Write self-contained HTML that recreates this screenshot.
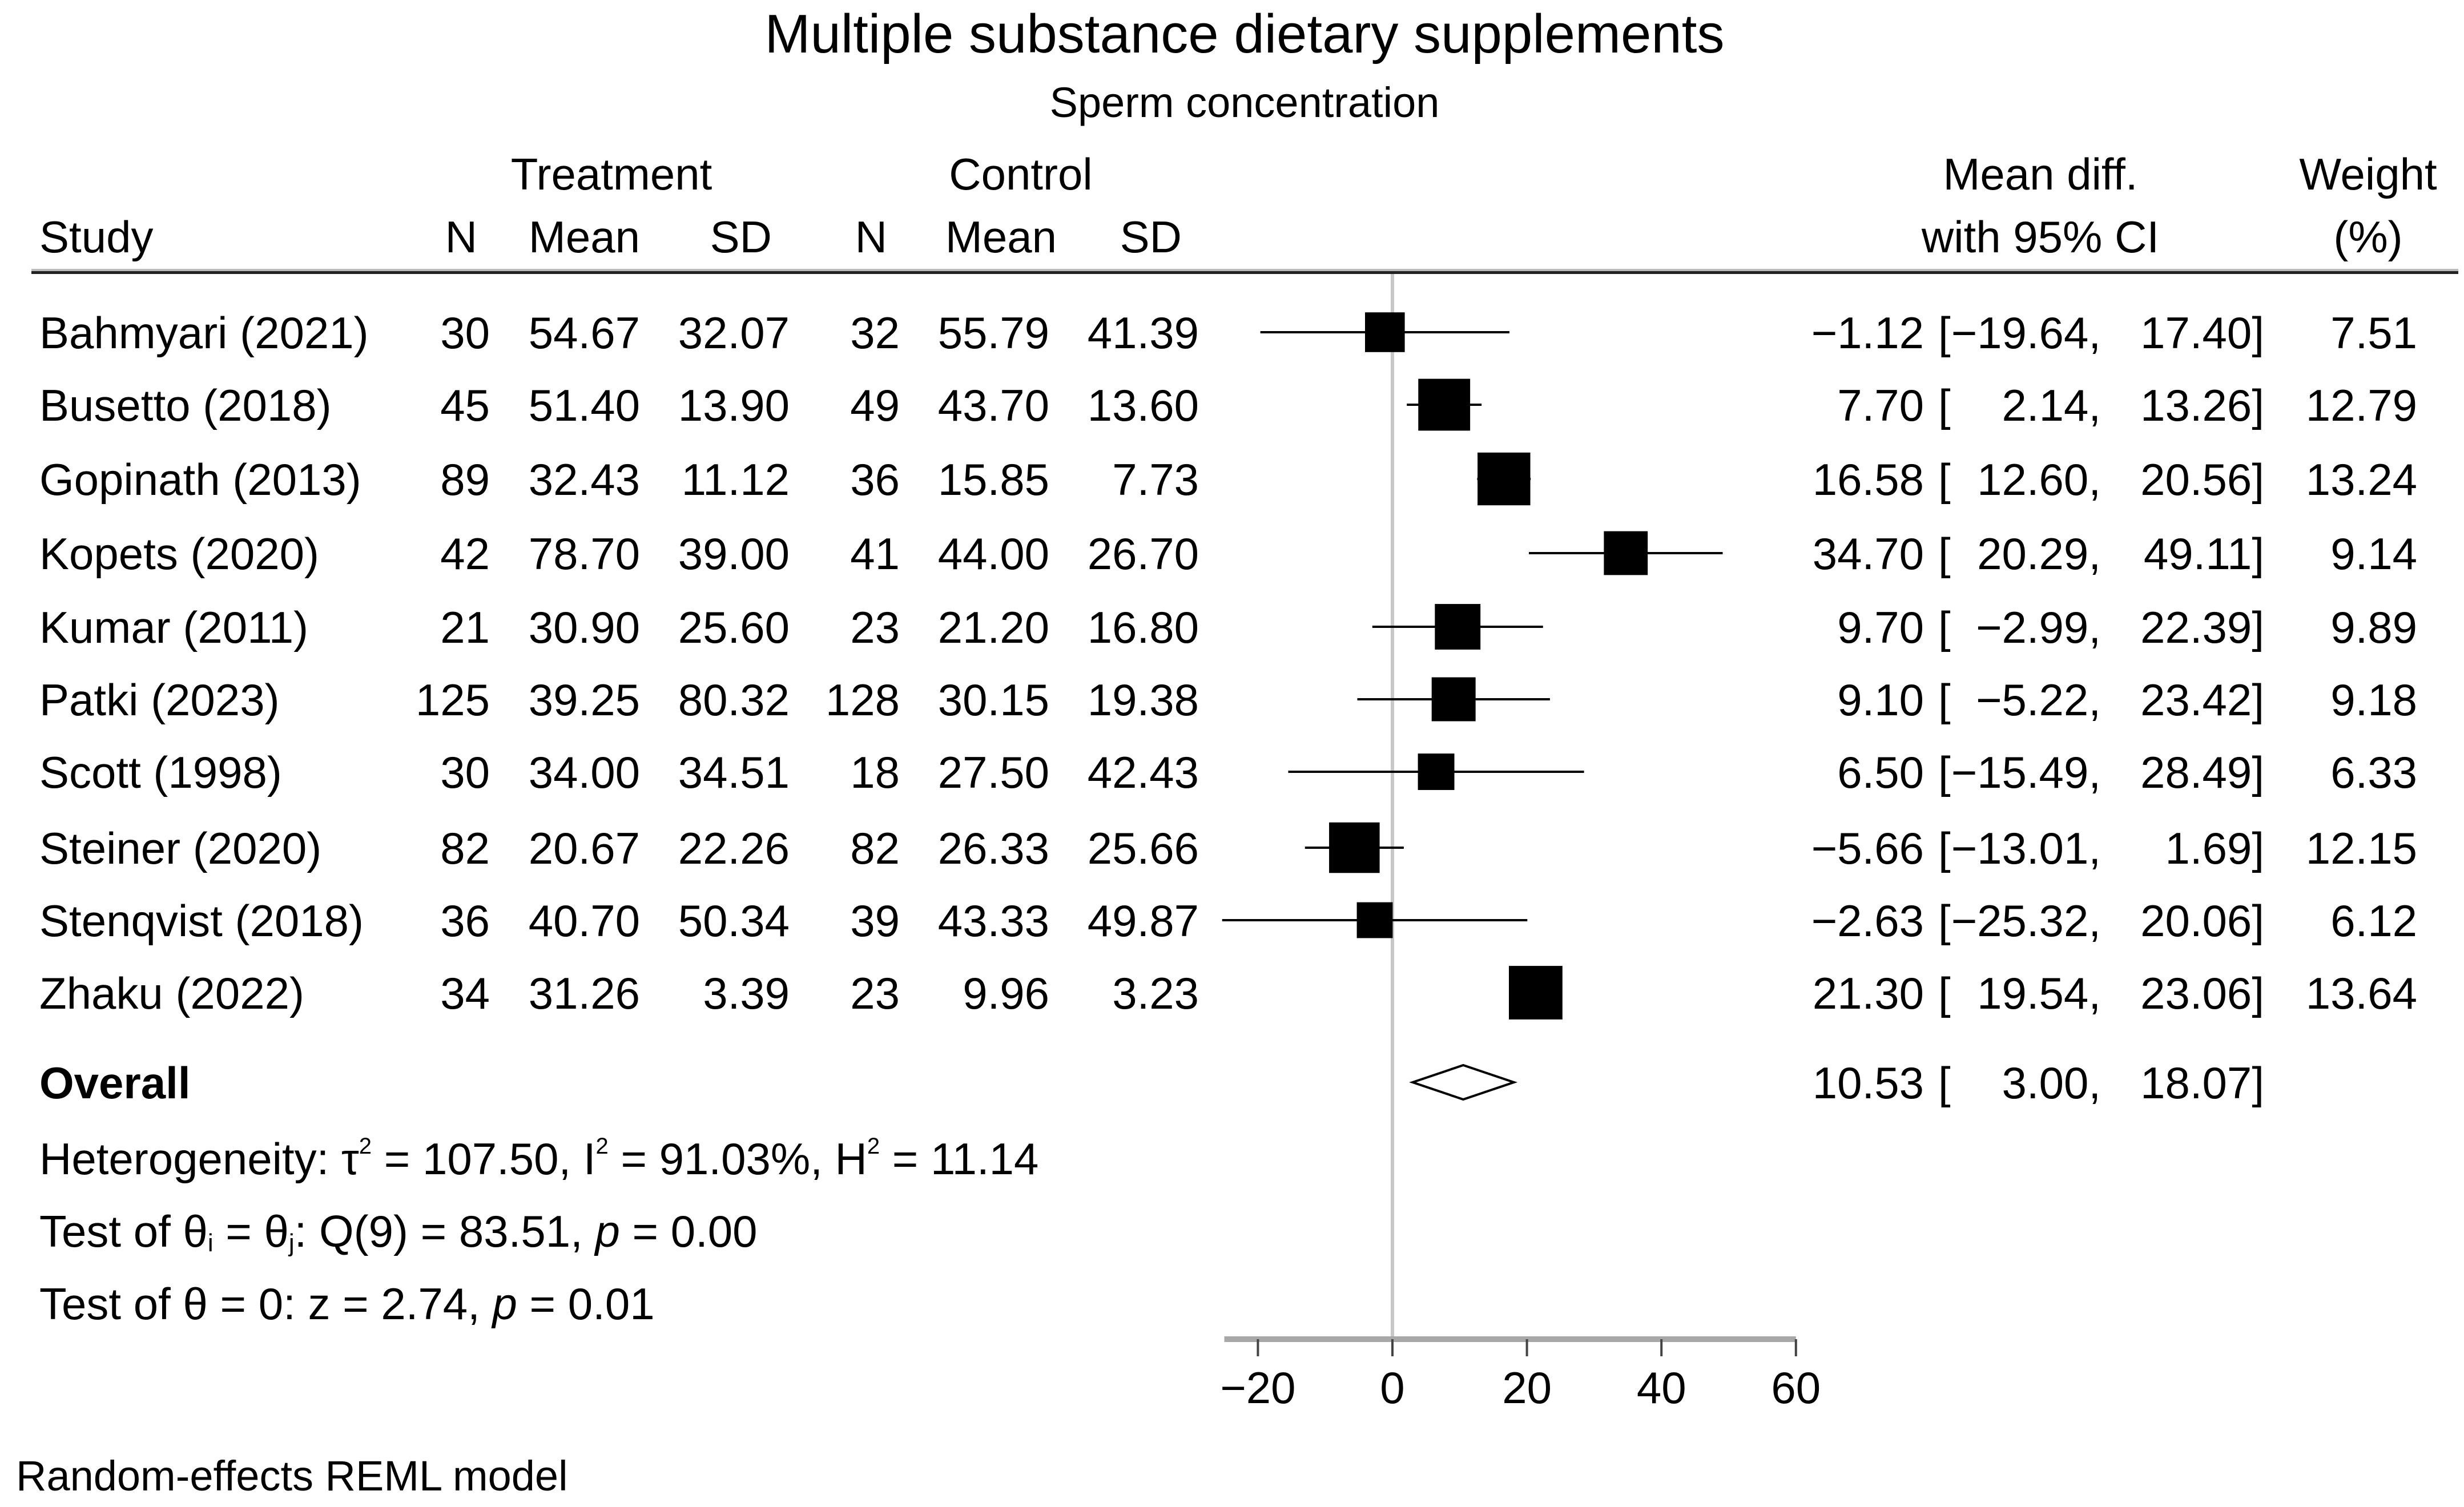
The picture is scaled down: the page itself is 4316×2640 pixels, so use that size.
<!DOCTYPE html>
<html><head><meta charset="utf-8"><style>
html,body{margin:0;padding:0;background:#fff}
svg{display:block;font-family:"Liberation Sans",Arial,sans-serif}
</style></head><body>
<svg id="plot" width="4316" height="2640" viewBox="0 0 4316 2640">
<rect width="4316" height="2640" fill="#fff"/>
<text x="2180" y="92" font-size="96" text-anchor="middle">Multiple substance dietary supplements</text>
<text x="2180" y="205" font-size="74" text-anchor="middle">Sperm concentration</text>
<g font-size="78">
<text x="1071" y="332" text-anchor="middle">Treatment</text>
<text x="1788" y="332" text-anchor="middle">Control</text>
<text x="3574" y="332" text-anchor="middle">Mean diff.</text>
<text x="4148" y="332" text-anchor="middle">Weight</text>
<text x="69" y="442">Study</text>
<text x="836" y="442" text-anchor="end">N</text>
<text x="1121" y="442" text-anchor="end">Mean</text>
<text x="1352" y="442" text-anchor="end">SD</text>
<text x="1554" y="442" text-anchor="end">N</text>
<text x="1851" y="442" text-anchor="end">Mean</text>
<text x="2070" y="442" text-anchor="end">SD</text>
<text x="3574" y="442" text-anchor="middle">with 95% CI</text>
<text x="4148" y="442" text-anchor="middle">(%)</text>
</g>
<rect x="55" y="471" width="4251" height="4" fill="#bbb"/>
<rect x="55" y="475" width="4251" height="5" fill="#222"/>
<g id="rows" font-size="78"></g>
<g id="marks"></g>
<g font-size="78">
<text x="69" y="2057">Heterogeneity: τ<tspan font-size="40" dy="-36">2</tspan><tspan dy="36"> = 107.50, I</tspan><tspan font-size="40" dy="-36">2</tspan><tspan dy="36"> = 91.03%, H</tspan><tspan font-size="40" dy="-36">2</tspan><tspan dy="36"> = 11.14</tspan></text>
<text x="69" y="2184">Test of θ<tspan font-size="44" dy="8">i</tspan><tspan dy="-8"> = θ</tspan><tspan font-size="44" dy="8">j</tspan><tspan dy="-8">: Q(9) = 83.51, </tspan><tspan font-style="italic">p</tspan> = 0.00</text>
<text x="69" y="2311">Test of θ = 0: z = 2.74, <tspan font-style="italic">p</tspan> = 0.01</text>
</g>
<text x="28" y="2611" font-size="74">Random-effects REML model</text>
</svg>
<script>
const studies=["Bahmyari (2021)","Busetto (2018)","Gopinath (2013)","Kopets (2020)","Kumar (2011)","Patki (2023)","Scott (1998)","Steiner (2020)","Stenqvist (2018)","Zhaku (2022)"];
const nT=["30","45","89","42","21","125","30","82","36","34"];
const meanT=["54.67","51.40","32.43","78.70","30.90","39.25","34.00","20.67","40.70","31.26"];
const sdT=["32.07","13.90","11.12","39.00","25.60","80.32","34.51","22.26","50.34","3.39"];
const nC=["32","49","36","41","23","128","18","82","39","23"];
const meanC=["55.79","43.70","15.85","44.00","21.20","30.15","27.50","26.33","43.33","9.96"];
const sdC=["41.39","13.60","7.73","26.70","16.80","19.38","42.43","25.66","49.87","3.23"];
const md=[-1.12,7.70,16.58,34.70,9.70,9.10,6.50,-5.66,-2.63,21.30];
const lo=[-19.64,2.14,12.60,20.29,-2.99,-5.22,-15.49,-13.01,-25.32,19.54];
const hi=[17.40,13.26,20.56,49.11,22.39,23.42,28.49,1.69,20.06,23.06];
const weight=[7.51,12.79,13.24,9.14,9.89,9.18,6.33,12.15,6.12,13.64];
const overall=[10.53,3.00,18.07];
const ticks=[-20,0,20,40,60];
const rowY=[582,709,839,969,1098,1225,1352,1485,1612,1739];
const NS="http://www.w3.org/2000/svg";
const X=v=>2439+v*11.78;
const fmt=v=>v.toFixed(2).replace('-','\u2212');
const rows=document.getElementById('rows'),marks=document.getElementById('marks'),svg=document.getElementById('plot');
function mk(tag,attrs,parent){const e=document.createElementNS(NS,tag);for(const k in attrs)e.setAttribute(k,attrs[k]);parent.appendChild(e);return e;}
function txt(x,y,s,anchor,parent){const t=mk('text',{x:x,y:y,'text-anchor':anchor},parent);t.textContent=s;return t;}
const zl=mk('line',{x1:X(0),x2:X(0),y1:480,y2:2348,stroke:'#c8c8c8','stroke-width':6},marks);


studies.forEach((s,i)=>{
 const y=rowY[i]+28;
 const g=mk('g',{},rows);
 
 
 txt(69,y,s,'start',g);
 txt(858,y,nT[i],'end',g);txt(1121,y,meanT[i],'end',g);txt(1383,y,sdT[i],'end',g);
 txt(1576,y,nC[i],'end',g);txt(1838,y,meanC[i],'end',g);txt(2100,y,sdC[i],'end',g);
 txt(3370,y,fmt(md[i]),'end',g);txt(3395,y,'[','start',g);
 txt(3680,y,fmt(lo[i])+',','end',g);txt(3966,y,fmt(hi[i])+']','end',g);
 txt(4234,y,weight[i].toFixed(2),'end',g);
 const ci=mk('line',{x1:X(lo[i]),x2:X(hi[i]),y1:rowY[i],y2:rowY[i],stroke:'#000','stroke-width':4},marks);
 
 
 const sz=25.4*Math.sqrt(weight[i]);
 const sq=mk('rect',{x:X(md[i])-sz/2,y:rowY[i]-sz/2,width:sz,height:sz,fill:'#000'},marks);
 
 
});
const og=mk('g',{'font-size':78},rows);


const oy=1896;
const ot=txt(69,oy+28,'Overall','start',og);ot.setAttribute('font-weight','bold');
txt(3370,oy+28,fmt(overall[0]),'end',og);txt(3395,oy+28,'[','start',og);
txt(3680,oy+28,fmt(overall[1])+',','end',og);txt(3966,oy+28,fmt(overall[2])+']','end',og);
const dm=mk('polygon',{points:`${X(overall[1])},${oy} ${X(overall[0])},${oy-30} ${X(overall[2])},${oy} ${X(overall[0])},${oy+30}`,fill:'#fff',stroke:'#000','stroke-width':4},marks);


const ax=mk('g',{},svg);


const al=mk('line',{x1:X(-25),x2:X(60),y1:2346,y2:2346,stroke:'#a8a8a8','stroke-width':10},ax);


ticks.forEach(t=>{
 const tl=mk('line',{x1:X(t),x2:X(t),y1:2346,y2:2376,stroke:'#444','stroke-width':4},ax);
 
 
 const lb=txt(X(t),2458,String(t).replace('-','\u2212'),'middle',ax);
 lb.setAttribute('font-size','78');
 
 
});
</script>
</body></html>
